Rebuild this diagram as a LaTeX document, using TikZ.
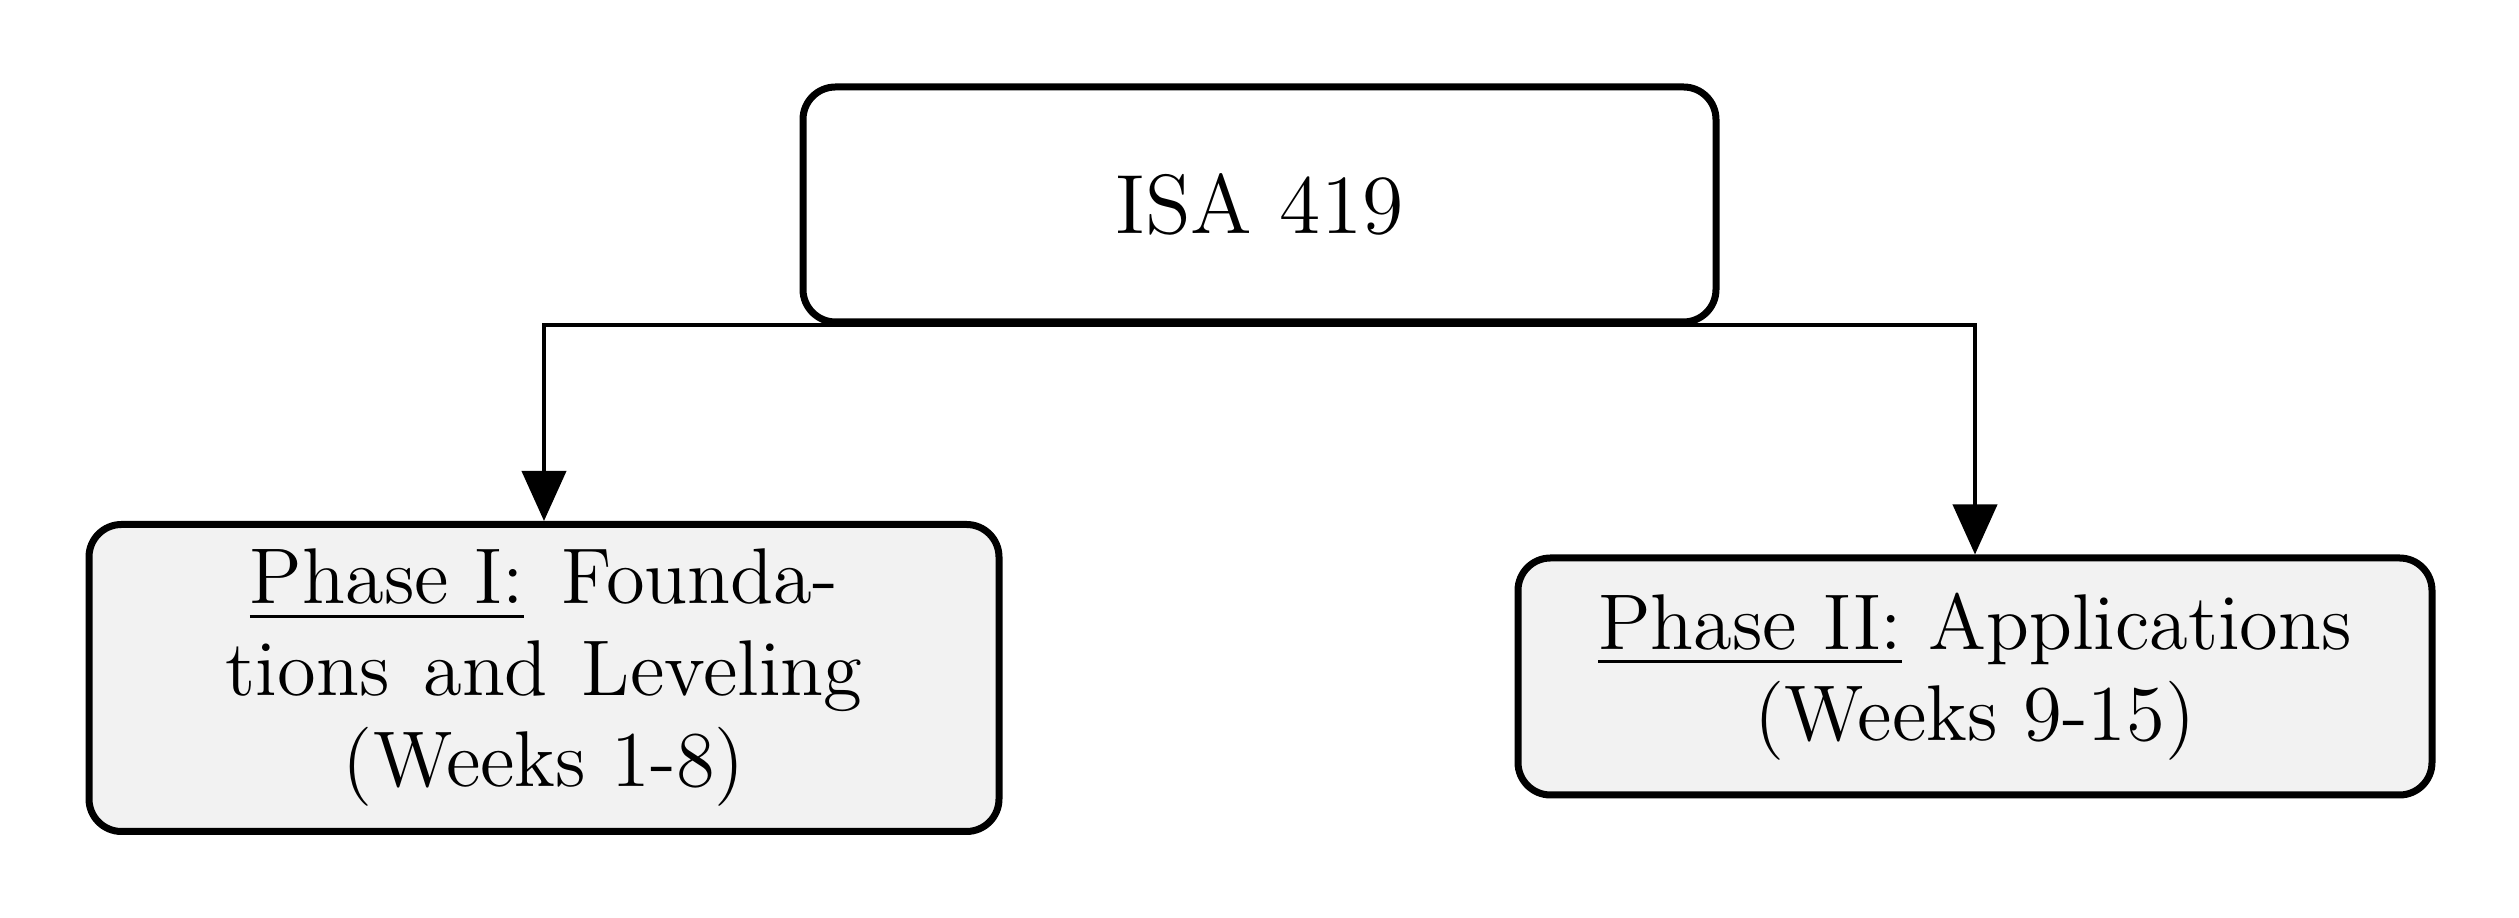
\documentclass[tikz,border=0pt]{standalone}
\usepackage{fontspec}
\newfontfamily\lmtw{lmroman12-regular}[Extension=.otf]
\usetikzlibrary{arrows.meta}
\definecolor{boxgray}{RGB}{242,242,242}
\newcommand{\myul}[1]{\leavevmode\vtop{\hbox{#1}\kern2.0pt\hrule height 0.65pt}}
\begin{document}
\begin{tikzpicture}[x=1pt,y=1pt,
  box/.style={draw, line width=1.4pt, rounded corners=6.5pt, inner sep=0pt, align=center},
  phasebox/.style={box, fill=boxgray, font=\lmtw\fontsize{15.8}{18.3}\selectfont},
  conn/.style={line width=0.8pt, -{Triangle[length=10pt,width=8.8pt]}}]
\useasboundingbox (0,0) rectangle (503.8,-183.6);
\node[box, minimum width=182.6pt, minimum height=47pt, font=\lmtw\fontsize{16.8}{20}\selectfont] (top) at (251.9,-40.9) {ISA 419};
\node[phasebox, minimum width=182pt, minimum height=61.4pt] (left) at (108.8,-135.6)
  {\myul{Phase I:}\hspace{2.4pt} Founda-\\tions\hspace{1.6pt} and\hspace{1.6pt} Leveling\\(Weeks 1-8)};
\node[phasebox, minimum width=182.8pt, minimum height=47.4pt] (right) at (395,-135.3)
  {\myul{Phase II:} Applications\\(Weeks 9-15)};
\draw[conn] (top.south) -| (left.north);
\draw[conn] (top.south) -| (right.north);
\end{tikzpicture}
\end{document}
